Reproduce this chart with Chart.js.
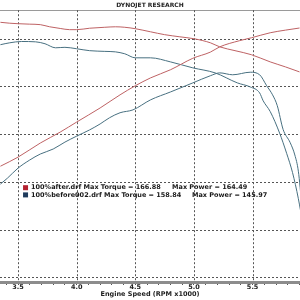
<!DOCTYPE html>
<html>
<head>
<meta charset="utf-8">
<script src="https://cdn.jsdelivr.net/npm/chart.js@4/dist/chart.umd.min.js"></script>
<style>
  html, body { margin: 0; padding: 0; background: #fff; }
  #wrap { width: 300px; height: 300px; position: relative; }
</style>
</head>
<body>
<div id="wrap"><canvas id="dynoChart"></canvas></div>
<script>
// Run names and summary numbers
const runNames = ["100%after.drf", "100%before002.drf"];
const maxTorque = ["166.88", "158.84"];
const maxPower = ["164.49", "145.97"];

// after run - torque
const afterTqRpm = [3.35, 3.43, 3.50, 3.60, 3.69, 3.77, 3.86, 3.94, 4.00, 4.11, 4.24, 4.33, 4.41, 4.50, 4.63, 4.75, 4.88, 5.00, 5.14, 5.22, 5.35, 5.49, 5.65, 5.78, 5.90];
const afterTq = [166.88, 166.5, 166.3, 166.1, 165.9, 165.0, 164.3, 163.8, 163.8, 164.4, 164.8, 165.0, 164.8, 164.2, 162.9, 161.7, 160.8, 160.0, 158.3, 156.6, 155.0, 153.3, 150.3, 148.2, 146.1];

// after run - power
const afterHpRpm = [3.35, 3.50, 3.69, 3.86, 4.00, 4.20, 4.37, 4.50, 4.63, 4.80, 4.99, 5.14, 5.22, 5.39, 5.49, 5.65, 5.78, 5.90];
const afterHp = [106.6, 110.4, 116.3, 120.9, 125.1, 131.0, 136.5, 140.3, 143.6, 147.0, 151.8, 154.4, 156.6, 159.2, 160.4, 162.5, 163.6, 164.49];

// before run - torque
const beforeTqRpm = [3.35, 3.43, 3.53, 3.65, 3.73, 3.82, 3.90, 4.00, 4.11, 4.24, 4.33, 4.41, 4.50, 4.63, 4.80, 4.99, 5.18, 5.37, 5.48, 5.56, 5.59, 5.65, 5.73, 5.79, 5.84, 5.89, 5.93];
const beforeTq = [157.5, 158.3, 158.84, 158.7, 157.9, 156.2, 156.4, 155.8, 155.0, 154.7, 154.5, 153.7, 152.0, 152.0, 150.3, 147.8, 145.7, 141.5, 139.8, 137.3, 134.0, 129.5, 120.5, 112.0, 104.0, 93.0, 82.0];

// before run - power
const beforeHpRpm = [3.35, 3.41, 3.50, 3.60, 3.69, 3.80, 3.90, 4.00, 4.11, 4.20, 4.28, 4.37, 4.48, 4.63, 4.80, 4.99, 5.14, 5.22, 5.33, 5.48, 5.56, 5.62, 5.67, 5.71, 5.76, 5.82, 5.86, 5.89, 5.92];
const beforeHp = [99.1, 101.6, 105.8, 109.2, 111.7, 113.8, 116.7, 119.2, 121.8, 124.3, 126.9, 129.0, 130.2, 134.4, 137.7, 141.5, 144.5, 145.7, 144.9, 145.97, 144.9, 140.3, 136.5, 132.0, 122.0, 116.5, 111.3, 104.5, 90.0];

// axis ticks
const rpmTicks = [3.5, 4.0, 4.5, 5.0, 5.5];
const valueTicks = [60, 80, 100, 120, 140, 160];

const RED = "rgb(190, 98, 100)";
const BLUE = "rgb(72, 112, 128)";
const SWATCH = ["#b3202f", "#1f3b5c"];
const GRID = "#555";
const FONT = "'DejaVu Sans', Verdana, sans-serif";

function toPoints(xs, ys) {
  return xs.map((x, i) => ({ x: x, y: ys[i] }));
}

function lineSet(label, xs, ys, color) {
  return {
    label: label,
    data: toPoints(xs, ys),
    borderColor: color,
    borderWidth: 1,
    pointRadius: 0,
    fill: false,
    cubicInterpolationMode: "monotone",
  };
}

// dotted grid at the major ticks of both scales
const dottedGrid = {
  id: "dottedGrid",
  beforeDatasetsDraw(chart) {
    const ctx = chart.ctx;
    const area = chart.chartArea;
    const x = chart.scales.x;
    const y = chart.scales.y;
    ctx.save();
    ctx.strokeStyle = GRID;
    ctx.lineWidth = 1;
    ctx.setLineDash([2, 2]);
    ctx.beginPath();
    rpmTicks.forEach(function (v) {
      const px = Math.round(x.getPixelForValue(v)) + 0.5;
      ctx.moveTo(px, area.top);
      ctx.lineTo(px, area.bottom);
    });
    valueTicks.forEach(function (v) {
      const py = Math.round(y.getPixelForValue(v)) + 0.5;
      ctx.moveTo(area.left, py);
      ctx.lineTo(area.right, py);
    });
    ctx.stroke();
    ctx.restore();
  },
};

// legend drawn inside the plot, like the dyno printout
const runLegend = {
  id: "runLegend",
  afterDatasetsDraw(chart) {
    const ctx = chart.ctx;
    const x = chart.scales.x;
    const y = chart.scales.y;
    const left = x.getPixelForValue(3.543);
    const top = y.getPixelForValue(97.6);
    const powerAt = [x.getPixelForValue(4.813), x.getPixelForValue(4.983)];
    ctx.save();
    ctx.font = "bold 6.5px " + FONT;
    ctx.textBaseline = "middle";
    runNames.forEach(function (name, i) {
      const cy = top + i * 7.2;
      ctx.fillStyle = SWATCH[i];
      ctx.fillRect(left, cy - 2.5, 5, 5);
      ctx.fillStyle = "#1a1a1a";
      ctx.fillText(name + " Max Torque = " + maxTorque[i], left + 8, cy);
      ctx.fillText("Max Power = " + maxPower[i], powerAt[i], cy);
    });
    ctx.restore();
  },
};

document.addEventListener("DOMContentLoaded", function () {
  const ctx = document.getElementById("dynoChart").getContext("2d");
  const dynoChart = new Chart(ctx, {
    type: "line",
    data: {
      datasets: [
        lineSet("after torque", afterTqRpm, afterTq, RED),
        lineSet("after power", afterHpRpm, afterHp, RED),
        lineSet("before torque", beforeTqRpm, beforeTq, BLUE),
        lineSet("before power", beforeHpRpm, beforeHp, BLUE),
      ],
    },
    options: {
      responsive: true,
      maintainAspectRatio: false,
      animation: false,
      devicePixelRatio: 1,
      layout: { padding: 0 },
      plugins: {
        legend: { display: false },
        tooltip: { enabled: false },
        title: {
          display: true,
          text: "DYNOJET RESEARCH",
          color: "#222",
          font: { family: FONT, size: 6, weight: "bold" },
          padding: { top: 2, bottom: 1 },
        },
      },
      scales: {
        x: {
          type: "linear",
          position: "bottom",
          min: 3.3465,
          max: 5.904,
          afterBuildTicks: function (scale) {
            const t = [];
            for (let v = 34; v <= 59; v++) t.push({ value: v / 10 });
            scale.ticks = t;
          },
          afterFit: function (scale) {
            scale.height = 18;
          },
          ticks: {
            autoSkip: false,
            maxRotation: 0,
            padding: -2,
            color: "#222",
            font: { family: FONT, size: 6.5, weight: "bold" },
            callback: function (v) {
              const r = Math.round(v * 10) / 10;
              return rpmTicks.includes(r) ? r.toFixed(1) : "";
            },
          },
          grid: {
            drawOnChartArea: false,
            color: "#555",
            tickColor: "#555",
            tickLength: 3,
          },
          border: { display: true, color: "#8c8c8c", width: 3 },
          title: {
            display: true,
            text: "Engine Speed (RPM x1000)",
            color: "#222",
            font: { family: FONT, size: 6.5, weight: "bold" },
            padding: { top: 0, bottom: 2 },
          },
        },
        xTop: {
          type: "linear",
          position: "top",
          min: 3.3465,
          max: 5.904,
          afterFit: function (scale) {
            scale.height = 0;
          },
          ticks: { display: false },
          grid: { display: false },
          border: { display: true, color: "#9a9a9a", width: 1 },
        },
        y: {
          type: "linear",
          min: 58.1,
          max: 171.95,
          afterBuildTicks: function (scale) {
            scale.ticks = valueTicks.map((v) => ({ value: v }));
          },
          afterFit: function (scale) {
            scale.width = 0;
          },
          ticks: { display: false },
          grid: { display: false },
          border: { display: false },
        },
      },
    },
    plugins: [dottedGrid, runLegend],
  });
});
</script>
</body>
</html>
